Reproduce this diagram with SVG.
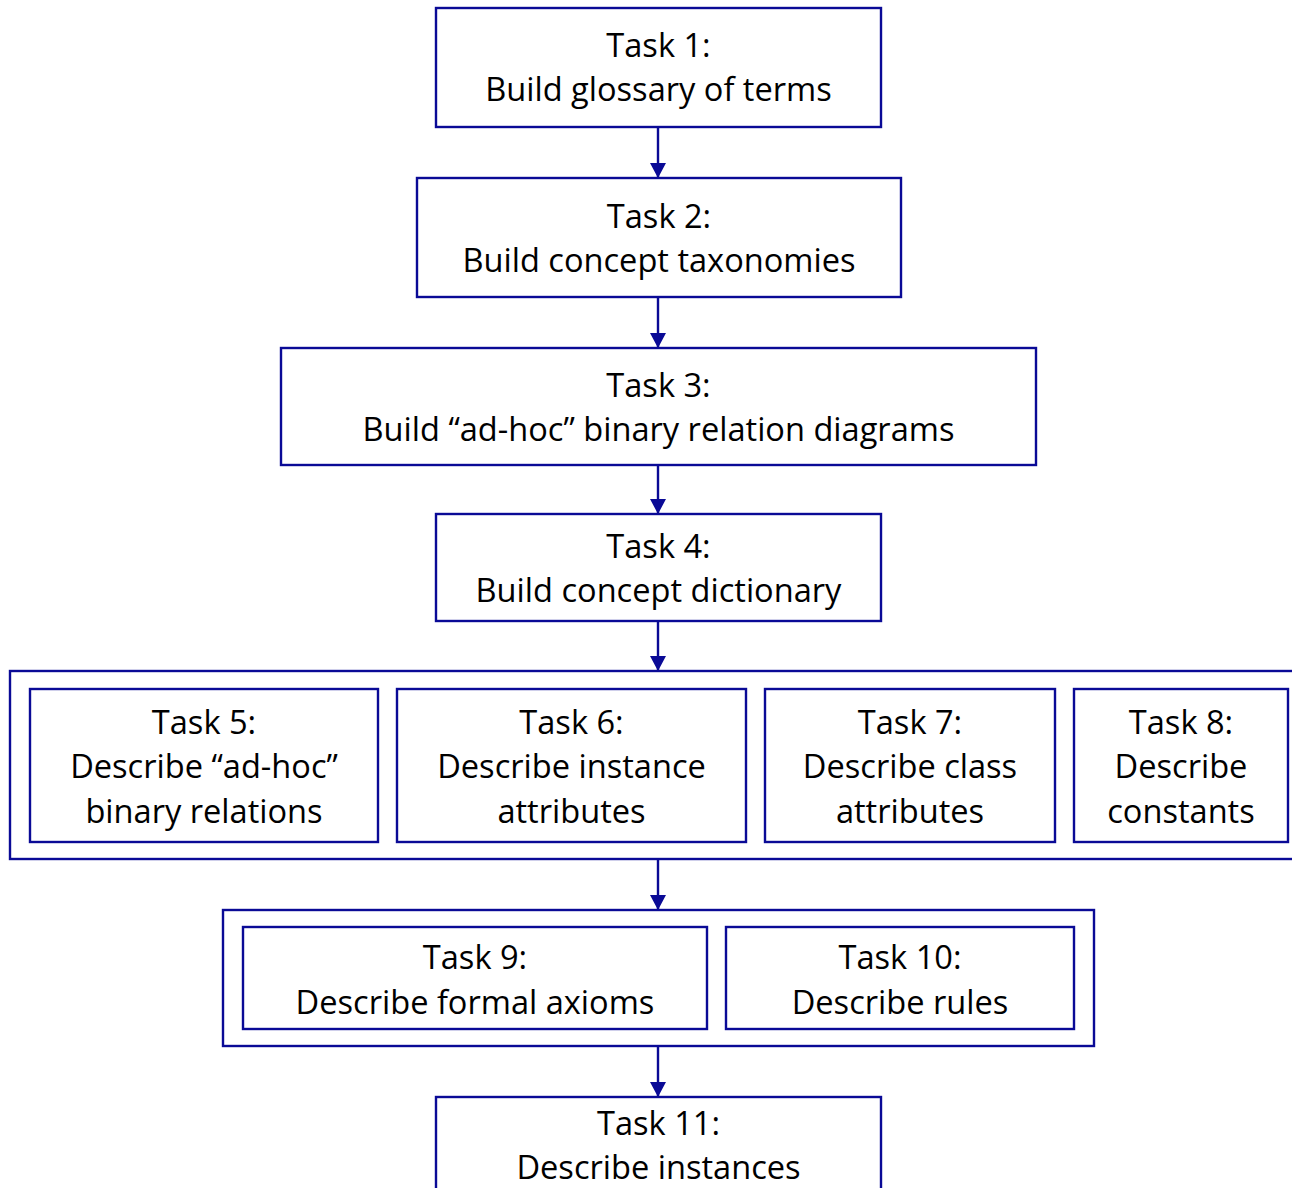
<svg xmlns="http://www.w3.org/2000/svg" width="1292" height="1188" viewBox="0 0 1292 1188">
  <style>
    .box { fill: #ffffff; stroke: #0a0a96; stroke-width: 2.4; }
    .grp { fill: none; stroke: #0a0a96; stroke-width: 2.4; }
    .lbl { font-family: "Open Sans", "Noto Sans", sans-serif; font-size: 32.6px; fill: #000000; text-anchor: middle; }
    .link { stroke: #0a0a96; stroke-width: 2.4; fill: none; marker-end: url(#arrow); }
  </style>
  <defs>
    <marker id="arrow" markerUnits="userSpaceOnUse" markerWidth="16" markerHeight="16" viewBox="0 0 16 16" refX="15" refY="8" orient="auto">
      <path d="M0,0 L15,8 L0,16 Z" fill="#0a0a96"/>
    </marker>
  </defs>
  <rect width="1292" height="1188" fill="#ffffff"/>

  <!-- flow arrows between stages -->
  <g id="connectors">
    <line class="link" x1="658" y1="127" x2="658" y2="178"/>
    <line class="link" x1="658" y1="297" x2="658" y2="348"/>
    <line class="link" x1="658" y1="465" x2="658" y2="514"/>
    <line class="link" x1="658" y1="621" x2="658" y2="671"/>
    <line class="link" x1="658" y1="859" x2="658" y2="910"/>
    <line class="link" x1="658" y1="1046" x2="658" y2="1097"/>
  </g>

  <g id="task1">
    <rect class="box" x="436" y="8" width="445" height="119"/>
    <text class="lbl" x="658.5" y="57">Task 1:</text>
    <text class="lbl" x="658.5" y="101">Build glossary of terms</text>
  </g>

  <g id="task2">
    <rect class="box" x="417" y="178" width="484" height="119"/>
    <text class="lbl" x="659" y="228">Task 2:</text>
    <text class="lbl" x="659" y="272">Build concept taxonomies</text>
  </g>

  <g id="task3">
    <rect class="box" x="281" y="348" width="755" height="117"/>
    <text class="lbl" x="658.5" y="397">Task 3:</text>
    <text class="lbl" x="658.5" y="441">Build “ad-hoc” binary relation diagrams</text>
  </g>

  <g id="task4">
    <rect class="box" x="436" y="514" width="445" height="107"/>
    <text class="lbl" x="658.5" y="558">Task 4:</text>
    <text class="lbl" x="658.5" y="602">Build concept dictionary</text>
  </g>

  <!-- tasks 5 to 8 run side by side inside one frame -->
  <g id="group-5-8">
    <rect class="grp" x="10" y="671" width="1292" height="188"/>
  </g>

  <g id="task5">
    <rect class="box" x="30" y="689" width="348" height="153"/>
    <text class="lbl" x="204" y="734">Task 5:</text>
    <text class="lbl" x="204" y="778">Describe “ad-hoc”</text>
    <text class="lbl" x="204" y="823">binary relations</text>
  </g>

  <g id="task6">
    <rect class="box" x="397" y="689" width="349" height="153"/>
    <text class="lbl" x="571.5" y="734">Task 6:</text>
    <text class="lbl" x="571.5" y="778">Describe instance</text>
    <text class="lbl" x="571.5" y="823">attributes</text>
  </g>

  <g id="task7">
    <rect class="box" x="765" y="689" width="290" height="153"/>
    <text class="lbl" x="910" y="734">Task 7:</text>
    <text class="lbl" x="910" y="778">Describe class</text>
    <text class="lbl" x="910" y="823">attributes</text>
  </g>

  <g id="task8">
    <rect class="box" x="1074" y="689" width="214" height="153"/>
    <text class="lbl" x="1181" y="734">Task 8:</text>
    <text class="lbl" x="1181" y="778">Describe</text>
    <text class="lbl" x="1181" y="823">constants</text>
  </g>

  <!-- tasks 9 and 10 share a frame -->
  <g id="group-9-10">
    <rect class="grp" x="223" y="910" width="871" height="136"/>
  </g>

  <g id="task9">
    <rect class="box" x="243" y="927" width="464" height="102"/>
    <text class="lbl" x="475" y="969">Task 9:</text>
    <text class="lbl" x="475" y="1014">Describe formal axioms</text>
  </g>

  <g id="task10">
    <rect class="box" x="726" y="927" width="348" height="102"/>
    <text class="lbl" x="900" y="969">Task 10:</text>
    <text class="lbl" x="900" y="1014">Describe rules</text>
  </g>

  <g id="task11">
    <rect class="box" x="436" y="1097" width="445" height="110"/>
    <text class="lbl" x="658.5" y="1135">Task 11:</text>
    <text class="lbl" x="658.5" y="1179">Describe instances</text>
  </g>
</svg>
